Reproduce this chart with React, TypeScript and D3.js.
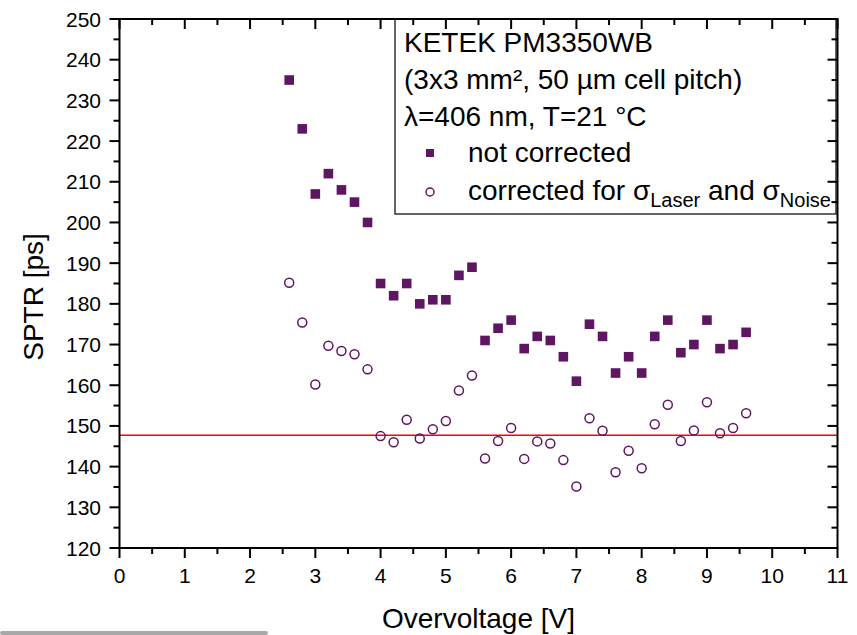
import React from "react";
import * as d3 from "d3";

const overvoltage = [2.6, 2.8, 3.0, 3.2, 3.4, 3.6, 3.8, 4.0, 4.2, 4.4, 4.6, 4.8, 5.0, 5.2, 5.4, 5.6, 5.8, 6.0, 6.2, 6.4, 6.6, 6.8, 7.0, 7.2, 7.4, 7.6, 7.8, 8.0, 8.2, 8.4, 8.6, 8.8, 9.0, 9.2, 9.4, 9.6];
const notCorrected = [235, 223, 207, 212, 208, 205, 200, 185, 182, 185, 180, 181, 181, 187, 189, 171, 174, 176, 169, 172, 171, 167, 161, 175, 172, 163, 167, 163, 172, 176, 168, 170, 176, 169, 170, 173];
const corrected = [185.2, 175.4, 160.2, 169.7, 168.4, 167.6, 163.9, 147.5, 146.0, 151.5, 146.9, 149.2, 151.2, 158.7, 162.4, 142.0, 146.3, 149.5, 141.9, 146.2, 145.7, 141.6, 135.1, 151.9, 148.8, 138.6, 143.9, 139.6, 150.4, 155.2, 146.3, 148.9, 155.8, 148.2, 149.5, 153.1];
const referenceLine = 147.7;
const xMajorTicks = [0, 1, 2, 3, 4, 5, 6, 7, 8, 9, 10, 11];
const xMinorTicks = [0.5, 1.5, 2.5, 3.5, 4.5, 5.5, 6.5, 7.5, 8.5, 9.5, 10.5];
const yMajorTicks = [120, 130, 140, 150, 160, 170, 180, 190, 200, 210, 220, 230, 240, 250];
const yMinorTicks = [125, 135, 145, 155, 165, 175, 185, 195, 205, 215, 225, 235, 245];
const legendLines = ["KETEK PM3350WB", "(3x3 mm², 50 µm cell pitch)", "λ=406 nm, T=21 °C"];

const W = 857;
const H = 635;
const L = 119.5, R = 837.5, T = 19, B = 548;
const PURPLE = "#5f1660";
const FONT = "'Liberation Sans', Arial, sans-serif";

export default function App() {
  const x = d3.scaleLinear().domain([0, 11]).range([L, R]);
  const y = d3.scaleLinear().domain([120, 250]).range([B, T]);
  const sq = 9.6;
  return (
    <svg width={W} height={H} style={{ position: "absolute", left: 0, top: 0, background: "#fff" }} fontFamily={FONT}>
      <rect x={0} y={0} width={W} height={H} fill="#fff" />
      {/* reference line */}
      <line x1={L} x2={R} y1={y(referenceLine)} y2={y(referenceLine)} stroke="#ff0000" strokeWidth={1.5} />
      {/* data */}
      {overvoltage.map((v, i) => (
        <rect key={"s" + i} x={x(v) - sq / 2} y={y(notCorrected[i]) - sq / 2} width={sq} height={sq} fill={PURPLE} />
      ))}
      {overvoltage.map((v, i) => (
        <circle key={"c" + i} cx={x(v)} cy={y(corrected[i])} r={4.5} fill="none" stroke={PURPLE} strokeWidth={1.5} />
      ))}
      {/* legend box */}
      <rect x={395} y={T} width={R - 395 - 1.5} height={214 - T} fill="#fff" stroke="#333" strokeWidth={1.5} />
      {legendLines.map((t, i) => (
        <text key={"l" + i} x={404} y={52 + i * 37} fontSize={28} fill="#000">{t}</text>
      ))}
      <rect x={430 - 4} y={153 - 4} width={8} height={8} fill={PURPLE} />
      <text x={468} y={162} fontSize={28} fill="#000">not corrected</text>
      <circle cx={430} cy={192} r={4} fill="none" stroke={PURPLE} strokeWidth={1.5} />
      <text x={468} y={200} fontSize={28} fill="#000">
        corrected for σ
        <tspan dy={7} fontSize={20}>Laser</tspan>
        <tspan dy={-7}> and σ</tspan>
        <tspan dy={7} fontSize={20}>Noise</tspan>
      </text>
      {/* frame */}
      <rect x={L} y={T} width={R - L} height={B - T} fill="none" stroke="#000" strokeWidth={2} />
      {/* x ticks */}
      {xMajorTicks.map((t) => (
        <g key={"xm" + t}>
          <line x1={x(t)} x2={x(t)} y1={B} y2={B + 10} stroke="#000" strokeWidth={2} />
          <line x1={x(t)} x2={x(t)} y1={T} y2={T + 10} stroke="#000" strokeWidth={2} />
          <text x={x(t)} y={583} fontSize={21} textAnchor="middle" fill="#000">{t}</text>
        </g>
      ))}
      {xMinorTicks.map((t) => (
        <g key={"xn" + t}>
          <line x1={x(t)} x2={x(t)} y1={B} y2={B + 6} stroke="#000" strokeWidth={2} />
          <line x1={x(t)} x2={x(t)} y1={T} y2={T + 6} stroke="#000" strokeWidth={2} />
        </g>
      ))}
      {/* y ticks */}
      {yMajorTicks.map((t) => (
        <g key={"ym" + t}>
          <line x1={L - 10} x2={L} y1={y(t)} y2={y(t)} stroke="#000" strokeWidth={2} />
          <line x1={R - 10} x2={R} y1={y(t)} y2={y(t)} stroke="#000" strokeWidth={2} />
          <text x={101} y={y(t) + 7.5} fontSize={21} textAnchor="end" fill="#000">{t}</text>
        </g>
      ))}
      {yMinorTicks.map((t) => (
        <g key={"yn" + t}>
          <line x1={L - 6} x2={L} y1={y(t)} y2={y(t)} stroke="#000" strokeWidth={2} />
          <line x1={R - 6} x2={R} y1={y(t)} y2={y(t)} stroke="#000" strokeWidth={2} />
        </g>
      ))}
      {/* axis titles */}
      <text x={(L + R) / 2} y={628} fontSize={28} textAnchor="middle" fill="#000">Overvoltage [V]</text>
      <text transform={`translate(43,297) rotate(-90)`} fontSize={28} textAnchor="middle" fill="#000">SPTR [ps]</text>
      {/* bottom gray bar */}
      <rect x={0} y={631} width={268} height={4} fill="#a8a8a8" rx={2} />
    </svg>
  );
}
